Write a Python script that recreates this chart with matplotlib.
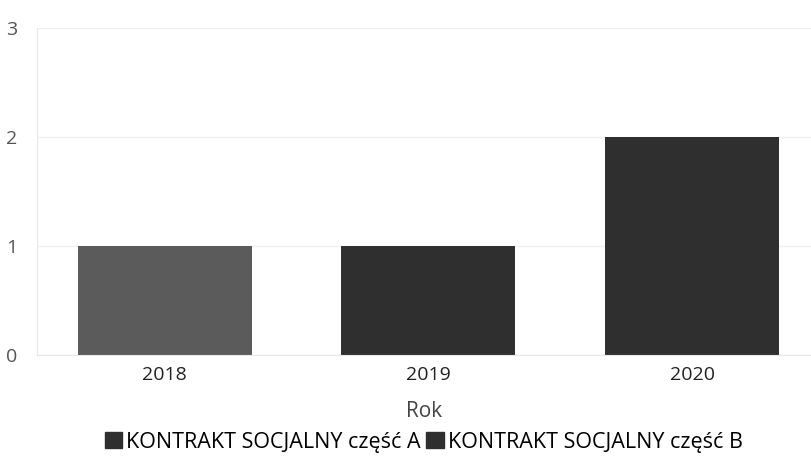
import numpy as np
import matplotlib.pyplot as plt
from matplotlib.patches import Patch

plt.rcParams['font.family'] = ['Open Sans', 'DejaVu Sans']

# dane
lata = ['2018', '2019', '2020']
czesc_a = [1, 0, 0]
czesc_b = [0, 1, 2]
serie = ['KONTRAKT SOCJALNY część A', 'KONTRAKT SOCJALNY część B']

fig = plt.figure(figsize=(8.12, 4.61), dpi=100)
ax = fig.add_axes([37/812, 1-355/461, 1-37/812, (355-28)/461])

x = np.arange(len(lata))
w = 0.66
ax.bar(x, czesc_a, w, color='#5b5b5b', zorder=2)
ax.bar(x, czesc_b, w, bottom=czesc_a, color='#2f2f2f', zorder=2)

ax.set_xlim(-0.485, 2.455)
ax.set_ylim(0, 3)
ax.set_yticks([0, 1, 2, 3])
ax.set_xticks(x)
ax.set_xticklabels(lata)
ax.grid(axis='y', color='#f0f0f0', lw=1, zorder=0)
for s in ['top', 'right']:
    ax.spines[s].set_visible(False)
ax.spines['left'].set_color('#e8e8e8')
ax.spines['bottom'].set_color('#e8e8e8')
ax.tick_params(length=0, labelsize=14, colors='#222222')
ax.tick_params(axis='y', pad=14, colors='#555555')
ax.tick_params(axis='x', pad=8)
ax.set_xlabel('Rok', fontsize=15, color='#444444', labelpad=12)

uchwyty = [Patch(color='#2f2f2f'), Patch(color='#2f2f2f')]
fig.legend(uchwyty, serie, loc='center', bbox_to_anchor=(0.522, 1-442/461), ncol=2,
           frameon=False, fontsize=15.5, handlelength=0.8, handleheight=0.8,
           handletextpad=0.2, columnspacing=0.25)

fig.savefig('out.png', dpi=100)
